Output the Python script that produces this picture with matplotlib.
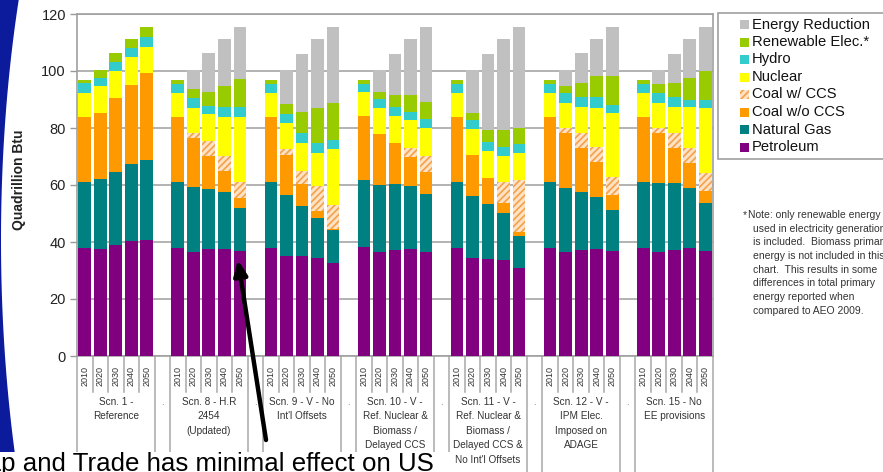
import numpy as np
import matplotlib
matplotlib.use("Agg")
import matplotlib.pyplot as plt
from matplotlib.patches import Rectangle, Polygon
from matplotlib.transforms import blended_transform_factory

plt.rcParams["font.family"] = ["Liberation Sans", "DejaVu Sans"]
plt.rcParams["hatch.linewidth"] = 1.2

W, H = 883, 472

years = ["2010", "2020", "2030", "2040", "2050"]
scenarios = [
    "Scn. 1 -\nReference",
    "Scn. 8 - H.R\n2454\n(Updated)",
    "Scn. 9 - V - No\nInt'l Offsets",
    "Scn. 10 - V -\nRef. Nuclear &\nBiomass /\nDelayed CCS",
    "Scn. 11 - V -\nRef. Nuclear &\nBiomass /\nDelayed CCS &\nNo Int'l Offsets",
    "Scn. 12 - V -\nIPM Elec.\nImposed on\nADAGE",
    "Scn. 15 - No\nEE provisions",
]

# Quadrillion Btu, scenario by scenario, years 2010..2050 within each
petroleum = [38.0, 37.6, 38.9, 40.5, 40.7,
             38.0, 36.6, 37.4, 37.6, 36.9,
             38.0, 35.1, 35.1, 34.4, 32.7,
             38.3, 36.6, 37.2, 37.5, 36.6,
             38.0, 34.5, 34.0, 33.7, 31.0,
             38.0, 36.6, 37.2, 37.5, 36.9,
             38.0, 36.6, 37.2, 37.8, 36.9]
natural_gas = [23.2, 24.4, 25.7, 26.8, 28.1,
               23.2, 22.8, 21.1, 19.9, 14.9,
               23.2, 21.4, 17.6, 14.1, 11.5,
               23.3, 23.4, 23.0, 22.1, 20.2,
               23.2, 21.6, 19.3, 16.4, 11.1,
               23.2, 22.2, 20.5, 18.4, 14.3,
               23.2, 24.0, 23.4, 21.3, 16.7]
coal_no_ccs = [22.8, 23.4, 25.8, 27.8, 30.4,
               22.8, 17.0, 11.8, 7.5, 3.5,
               22.5, 14.2, 7.5, 2.4, 0.5,
               22.5, 17.8, 14.7, 10.3, 7.6,
               22.8, 14.4, 9.0, 3.7, 1.5,
               22.8, 19.3, 15.4, 12.0, 5.3,
               22.5, 17.5, 12.5, 8.5, 4.3]
coal_ccs = [0, 0, 0, 0, 0,
            0, 1.7, 5.2, 5.2, 5.9,
            0, 1.8, 4.8, 8.9, 8.3,
            0, 0, 0, 3.2, 5.9,
            0, 0, 0, 7.1, 18.2,
            0, 1.8, 5.0, 5.6, 6.4,
            0, 2.0, 5.0, 5.5, 6.2]
nuclear = [8.4, 9.3, 9.6, 9.7, 9.3,
           8.2, 8.8, 9.3, 13.8, 22.8,
           8.5, 9.4, 9.6, 11.3, 19.6,
           8.5, 9.1, 9.4, 9.7, 9.8,
           8.4, 9.0, 9.6, 9.4, 9.5,
           8.2, 9.0, 9.4, 13.6, 22.2,
           8.5, 8.8, 9.4, 14.1, 22.8]
hydro = [3.3, 2.9, 3.0, 3.2, 3.5,
         3.2, 3.5, 2.9, 3.5, 3.2,
         3.2, 2.9, 3.5, 3.5, 3.2,
         3.0, 3.2, 3.2, 2.9, 2.9,
         3.0, 3.3, 3.1, 3.1, 3.1,
         3.2, 3.3, 3.3, 3.7, 3.0,
         3.2, 3.5, 3.5, 2.6, 2.9]
renewable = [1.1, 2.8, 3.2, 3.2, 3.5,
             1.4, 3.2, 5.0, 7.2, 10.0,
             1.4, 3.5, 7.4, 12.5, 13.1,
             1.3, 2.4, 4.1, 5.9, 6.0,
             1.4, 2.3, 4.3, 5.9, 5.7,
             1.4, 2.5, 4.9, 7.6, 10.1,
             1.4, 2.9, 4.7, 7.8, 10.3]
energy_reduction = [0, 0, 0, 0, 0,
                    0, 6.8, 13.5, 16.5, 18.3,
                    0, 12.1, 20.5, 24.0, 26.6,
                    0, 7.9, 14.4, 19.5, 26.5,
                    0, 15.3, 26.7, 31.8, 35.4,
                    0, 5.7, 10.5, 12.7, 17.3,
                    0, 5.1, 10.3, 13.5, 15.4]

series_names = ["Petroleum", "Natural Gas", "Coal w/o CCS", "Coal w/ CCS",
                "Nuclear", "Hydro", "Renewable Elec.*", "Energy Reduction"]
series_values = [petroleum, natural_gas, coal_no_ccs, coal_ccs,
                 nuclear, hydro, renewable, energy_reduction]
series_colors = ["#800080", "#008080", "#ff9900", "#fde2c4",
                 "#ffff00", "#33cccc", "#99cc00", "#c0c0c0"]
series_hatch = [None, None, None, "/////", None, None, None, None]

note_lines = ["Note: only renewable energy",
              "used in electricity generation",
              "is included.  Biomass primary",
              "energy is not included in this",
              "chart.  This results in some",
              "differences in total primary",
              "energy reported when",
              "compared to AEO 2009."]


def fx(px):
    return px / W


def fy(py):
    return 1 - py / H


fig = plt.figure(figsize=(W / 100, H / 100), dpi=100)
fig.patch.set_facecolor("white")

# background layer in pixel units (y down): slide decoration
ax_bg = fig.add_axes([0, 0, 1, 1], facecolor="none", zorder=-5)
ax_bg.set_xlim(0, W)
ax_bg.set_ylim(H, 0)
ax_bg.axis("off")
yy = np.linspace(0, H, 200)
a, b, cy = 212.0, 600.0, 240.0
xx = 1 + a * (1 - np.sqrt(1 - ((yy - cy) / b) ** 2))
pts = [(0, 0)] + list(zip(xx, yy)) + [(0, H)]
ax_bg.add_patch(Polygon(pts, closed=True, facecolor="#0c1a9c",
                        edgecolor="none"))

ax = fig.add_axes([fx(77), fy(356), fx(713) - fx(77), (356 - 14) / H], zorder=1)
ax.set_facecolor("white")

n_groups = len(scenarios)
n_years = len(years)
xpos = np.array([g * (n_years + 1) + j for g in range(n_groups) for j in range(n_years)])

bottom = np.zeros(len(xpos))
for vals, col, hat in zip(series_values, series_colors, series_hatch):
    v = np.array(vals, dtype=float)
    if hat:
        ax.bar(xpos, v, width=0.82, bottom=bottom, color=col, hatch=hat,
               edgecolor="#f5a04a", linewidth=0, zorder=3)
    else:
        ax.bar(xpos, v, width=0.82, bottom=bottom, color=col,
               linewidth=0, zorder=3)
    bottom += v

n_slots = n_groups * (n_years + 1) - 1
ax.set_xlim(-0.5, n_slots - 0.5)
ax.set_ylim(0, 120)
ax.set_yticks(np.arange(0, 121, 20))
ax.yaxis.grid(True, color="#a6a6a6", linewidth=1.2, zorder=0)
ax.set_axisbelow(True)
ax.tick_params(axis="y", length=5, width=1, color="#999999", labelsize=10.5,
               labelcolor="#222222", pad=3)
for s in ["left", "right", "top", "bottom"]:
    ax.spines[s].set_color("#a0a0a0")
    ax.spines[s].set_linewidth(1.2)

ax.set_xticks(xpos)
ax.set_xticklabels(years * n_groups, rotation=90, fontsize=6.5, color="#333333")
ax.tick_params(axis="x", length=0, pad=7)

# category separators below the axis
trans = blended_transform_factory(ax.transData, ax.transAxes)
short_y = -(392 - 356) / 342
long_y = -(H - 356) / 342
group_edges = set()
for g in range(n_groups):
    start = g * (n_years + 1)
    group_edges.add(start - 0.5)
    group_edges.add(start + n_years - 0.5)
for k in range(n_slots + 1):
    xk = k - 0.5
    y_end = long_y if xk in group_edges else short_y
    ax.plot([xk, xk], [0, y_end], transform=trans, color="#a8a8a8",
            linewidth=1.1, clip_on=False, zorder=1)

label_top = -(397 - 356) / 342
for g, name in enumerate(scenarios):
    cx = g * (n_years + 1) + (n_years - 1) / 2
    ax.text(cx, label_top, name, transform=trans, ha="center", va="top",
            fontsize=7.2, color="#333333", linespacing=1.55)
    if g < n_groups - 1:
        ax.text(g * (n_years + 1) + n_years, label_top, ".", transform=trans,
                ha="center", va="top", fontsize=7, color="#777777")

# overlay layer in pixel units (y down): labels, legend, notes, arrow, title
ov = fig.add_axes([0, 0, 1, 1], facecolor="none", zorder=5)
ov.set_xlim(0, W)
ov.set_ylim(H, 0)
ov.axis("off")

ov.text(19, 180, "Quadrillion Btu", rotation=90, ha="center", va="center",
        fontsize=10, fontweight="bold", color="#222222")

# legend box
ov.add_patch(Rectangle((718, 13), 200, 146, facecolor="white",
                       edgecolor="#a0a0a0", linewidth=1.2, clip_on=False))
for i, k in enumerate(range(len(series_names) - 1, -1, -1)):
    yc = 24.5 + i * 17.5
    ov.add_patch(Rectangle((740, yc - 4.5), 9, 9,
                           facecolor=series_colors[k], hatch=series_hatch[k],
                           edgecolor="#f5a04a" if series_hatch[k] else "none",
                           linewidth=0))
    ov.text(752, yc, series_names[k], ha="left", va="center",
            fontsize=10.6, color="#111111")

# footnote
ov.text(743, 215, "*", ha="left", va="center", fontsize=7.5, color="#333333")
for i, line in enumerate(note_lines):
    x0 = 747.5 if i == 0 else 753
    ov.text(x0, 215 + i * 13.7, line, ha="left", va="center",
            fontsize=7.5, color="#333333")

# arrow pointing at the H.R. 2454 petroleum bar
ov.annotate("", xy=(238, 260), xytext=(266, 440),
            arrowprops=dict(arrowstyle="-|>,head_length=0.9,head_width=0.4",
                            color="black", linewidth=3.2,
                            shrinkA=0, shrinkB=0))

# slide title strip along the bottom
ov.add_patch(Rectangle((0, 452), 450, 25, facecolor="white",
                       edgecolor="none", zorder=5, clip_on=False))
ov.text(-32, 471, "Cap and Trade has minimal effect on US", ha="left",
        va="baseline", fontsize=18.6, color="black", zorder=6)

fig.savefig("out.png", dpi=100)
